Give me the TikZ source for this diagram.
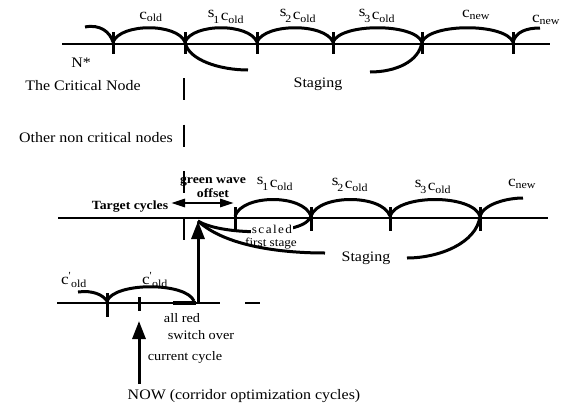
\documentclass[tikz,border=0pt]{standalone}
\usepackage{fontspec}
\setmainfont{Liberation Serif}[FakeStretch=1.1]
\usetikzlibrary{arrows.meta}

% cycle labels: c_old, s_i c_old, c_new, c'_old
\newcommand{\cold}{c\textsubscript{old}}
\newcommand{\cnew}{c\textsubscript{new}}
\newcommand{\scold}[1]{\raisebox{3pt}{s}\kern-1pt\textsubscript{#1}\kern1pt c\textsubscript{old}}
\newcommand{\cpold}{c\textsuperscript{\textquotesingle}\textsubscript{old}}

\begin{document}
\begin{tikzpicture}[x=1pt,y=-1pt,
  timeline/.style={line width=2.8pt},
  tickmark/.style={line width=3pt},
  cyclearc/.style={line width=3pt},
  lbl/.style={inner sep=0pt, font=\fontsize{15.5}{17}\selectfont},
  txt/.style={inner sep=0pt, font=\fontsize{14.5}{17}\selectfont},
  smalltxt/.style={inner sep=0pt, font=\fontsize{13}{15}\selectfont},
  tinytxt/.style={inner sep=0pt, font=\fontsize{12}{13}\selectfont},
  boldtxt/.style={inner sep=0pt, font=\bfseries\fontsize{12.5}{13}\selectfont},
  bigarrow/.style={line width=3pt, -{Triangle[length=18pt,width=13pt]}},
  offarrow/.style={line width=2.8pt, {Triangle[length=14pt,width=8pt]}-{Triangle[length=14pt,width=8pt]}}
]
\useasboundingbox (0,0) rectangle (563,405);

% ---------------- critical node time line ----------------
\coordinate (a0) at (62,44);  \coordinate (a9) at (550,44);
\draw[timeline] (a0) -- (a9);
\foreach \n/\x in {1/113,2/185,3/257,4/333,5/422,6/513}{
  \coordinate (a\n) at (\x,42);
  \coordinate (a\n b) at (\x,32);
  \coordinate (a\n e) at (\x,54);
  \draw[tickmark] (a\n b) -- (a\n e);
}
\coordinate (aL) at (85,27);
\coordinate (aR) at (540,28);
\draw[cyclearc] (aL) .. controls (100,24) and (110,32) .. (a1);
\foreach \p/\q in {1/2,2/3,3/4,4/5,5/6}
  \draw[cyclearc] (a\p) .. controls +(8,-19) and +(-8,-19) .. (a\q);
\draw[cyclearc] (a6) .. controls +(3,-10) and +(-14,0) .. (aR);
% staging branches
\coordinate (sg1) at (248,70);
\coordinate (sg2) at (370,72);
\draw[cyclearc] (a2) .. controls +(3,18) and +(-28,0) .. (sg1);
\draw[cyclearc] (a5) .. controls +(-3,20) and +(25,0) .. (sg2);

\node[lbl] (l1) at (151,17) {\cold};
\node[lbl] (l2) at (226,17) {\scold{1}};
\node[lbl] (l3) at (298,16) {\scold{2}};
\node[lbl] (l4) at (377,16) {\scold{3}};
\node[lbl] (l5) at (476,15) {\cnew};
\node[lbl] (l6) at (546,20) {\cnew};

\node[txt] (nstar) at (81,63) {N*};
\node[txt] (crit) at (83,86) {The Critical Node};
\node[txt] (stg1) at (318,84) {Staging};
\node[txt] (other) at (96,138) {Other non critical nodes};

% dashed alignment line through the nodes
\coordinate (d0) at (184,78);
\coordinate (d1) at (184,241);
\draw[line width=2.8pt, dash pattern=on 22pt off 24.7pt] (d0) -- (d1);

% ---------------- target cycles time line ----------------
\coordinate (b0) at (58,218);  \coordinate (b9) at (548,218);
\draw[timeline] (b0) -- (b9);
\foreach \n/\x in {1/235,2/311,3/390,4/480}{
  \coordinate (b\n) at (\x,216);
  \coordinate (b\n b) at (\x,207);
  \coordinate (b\n e) at (\x,231);
  \draw[tickmark] (b\n b) -- (b\n e);
}
\coordinate (bR) at (523,198);
\foreach \p/\q in {1/2,2/3,3/4}
  \draw[cyclearc] (b\p) .. controls +(8,-22) and +(-8,-22) .. (b\q);
\draw[cyclearc] (b4) .. controls +(4,-12) and +(-16,0) .. (bR);

\node[lbl] (m1) at (275,184) {\scold{1}};
\node[lbl] (m2) at (350,185) {\scold{2}};
\node[lbl] (m3) at (433,187) {\scold{3}};
\node[lbl] (m4) at (522,184) {\cnew};

% switch over point and staging branches
\coordinate (sw) at (198,221);
\coordinate (fs) at (325,253);
\coordinate (sg3) at (407,258);
\draw[cyclearc] (b2) .. controls (306,236) and (222,236) .. (sw);
\draw[cyclearc] (sw) .. controls (225,246) and (280,253) .. (fs);
\draw[cyclearc] (b4) .. controls +(-3,27) and +(32,0) .. (sg3);

\node[tinytxt, fill=white, inner xsep=1pt, inner ysep=0.5pt] (scl) at (272,229) {\addfontfeature{LetterSpace=12}scaled};
\node[tinytxt] (fst) at (271,243.5) {first stage};
\node[txt] (stg2) at (366,258) {Staging};

\node[boldtxt] (tgt) at (130,207) {Target cycles};
\coordinate (o1) at (171,203);
\coordinate (o2) at (234,203);
\draw[offarrow] (o1) -- (o2);
\node[boldtxt] (gw) at (213,182) {green wave};
\node[boldtxt] (ofs) at (213,193) {offset};

% ---------------- current cycles time line ----------------
\coordinate (c0) at (57,303);  \coordinate (c9) at (220,303);
\draw[timeline] (c0) -- (c9);
\coordinate (cd0) at (245,303); \coordinate (cd1) at (260,303);
\draw[timeline] (cd0) -- (cd1);
\coordinate (c1) at (107,301);
\coordinate (c1b) at (107,293); \coordinate (c1e) at (107,317);
\coordinate (c2b) at (139,297); \coordinate (c2e) at (139,311);
\draw[tickmark] (c1b) -- (c1e);
\draw[tickmark] (c2b) -- (c2e);
\coordinate (cL) at (78,292);
\coordinate (cE) at (194,301);
\draw[cyclearc] (cL) .. controls (93,290) and (103,295) .. (c1);
\draw[cyclearc] (c1) .. controls +(8,-19) and +(-8,-19) .. (cE);
% all red interval
\coordinate (r0) at (173,303); \coordinate (r1) at (196,303);
\draw[line width=4.8pt] (r0) -- (r1);

\node[lbl] (k1) at (74,280) {\cpold};
\node[lbl] (k2) at (155,280) {\cpold};

% switch over arrow
\coordinate (sw0) at (198,304);
\draw[bigarrow] (sw0) -- (sw);
\node[smalltxt] (ared) at (182,318) {all red};
\node[smalltxt] (swo) at (201,335) {switch over};

% now arrow
\coordinate (nw0) at (139,384);
\coordinate (nw1) at (139,321);
\draw[bigarrow] (nw0) -- (nw1);
\node[smalltxt] (cur) at (185,357) {current cycle};
\node[txt] (now) at (244,396) {NOW (corridor optimization cycles)};
\end{tikzpicture}
\end{document}
